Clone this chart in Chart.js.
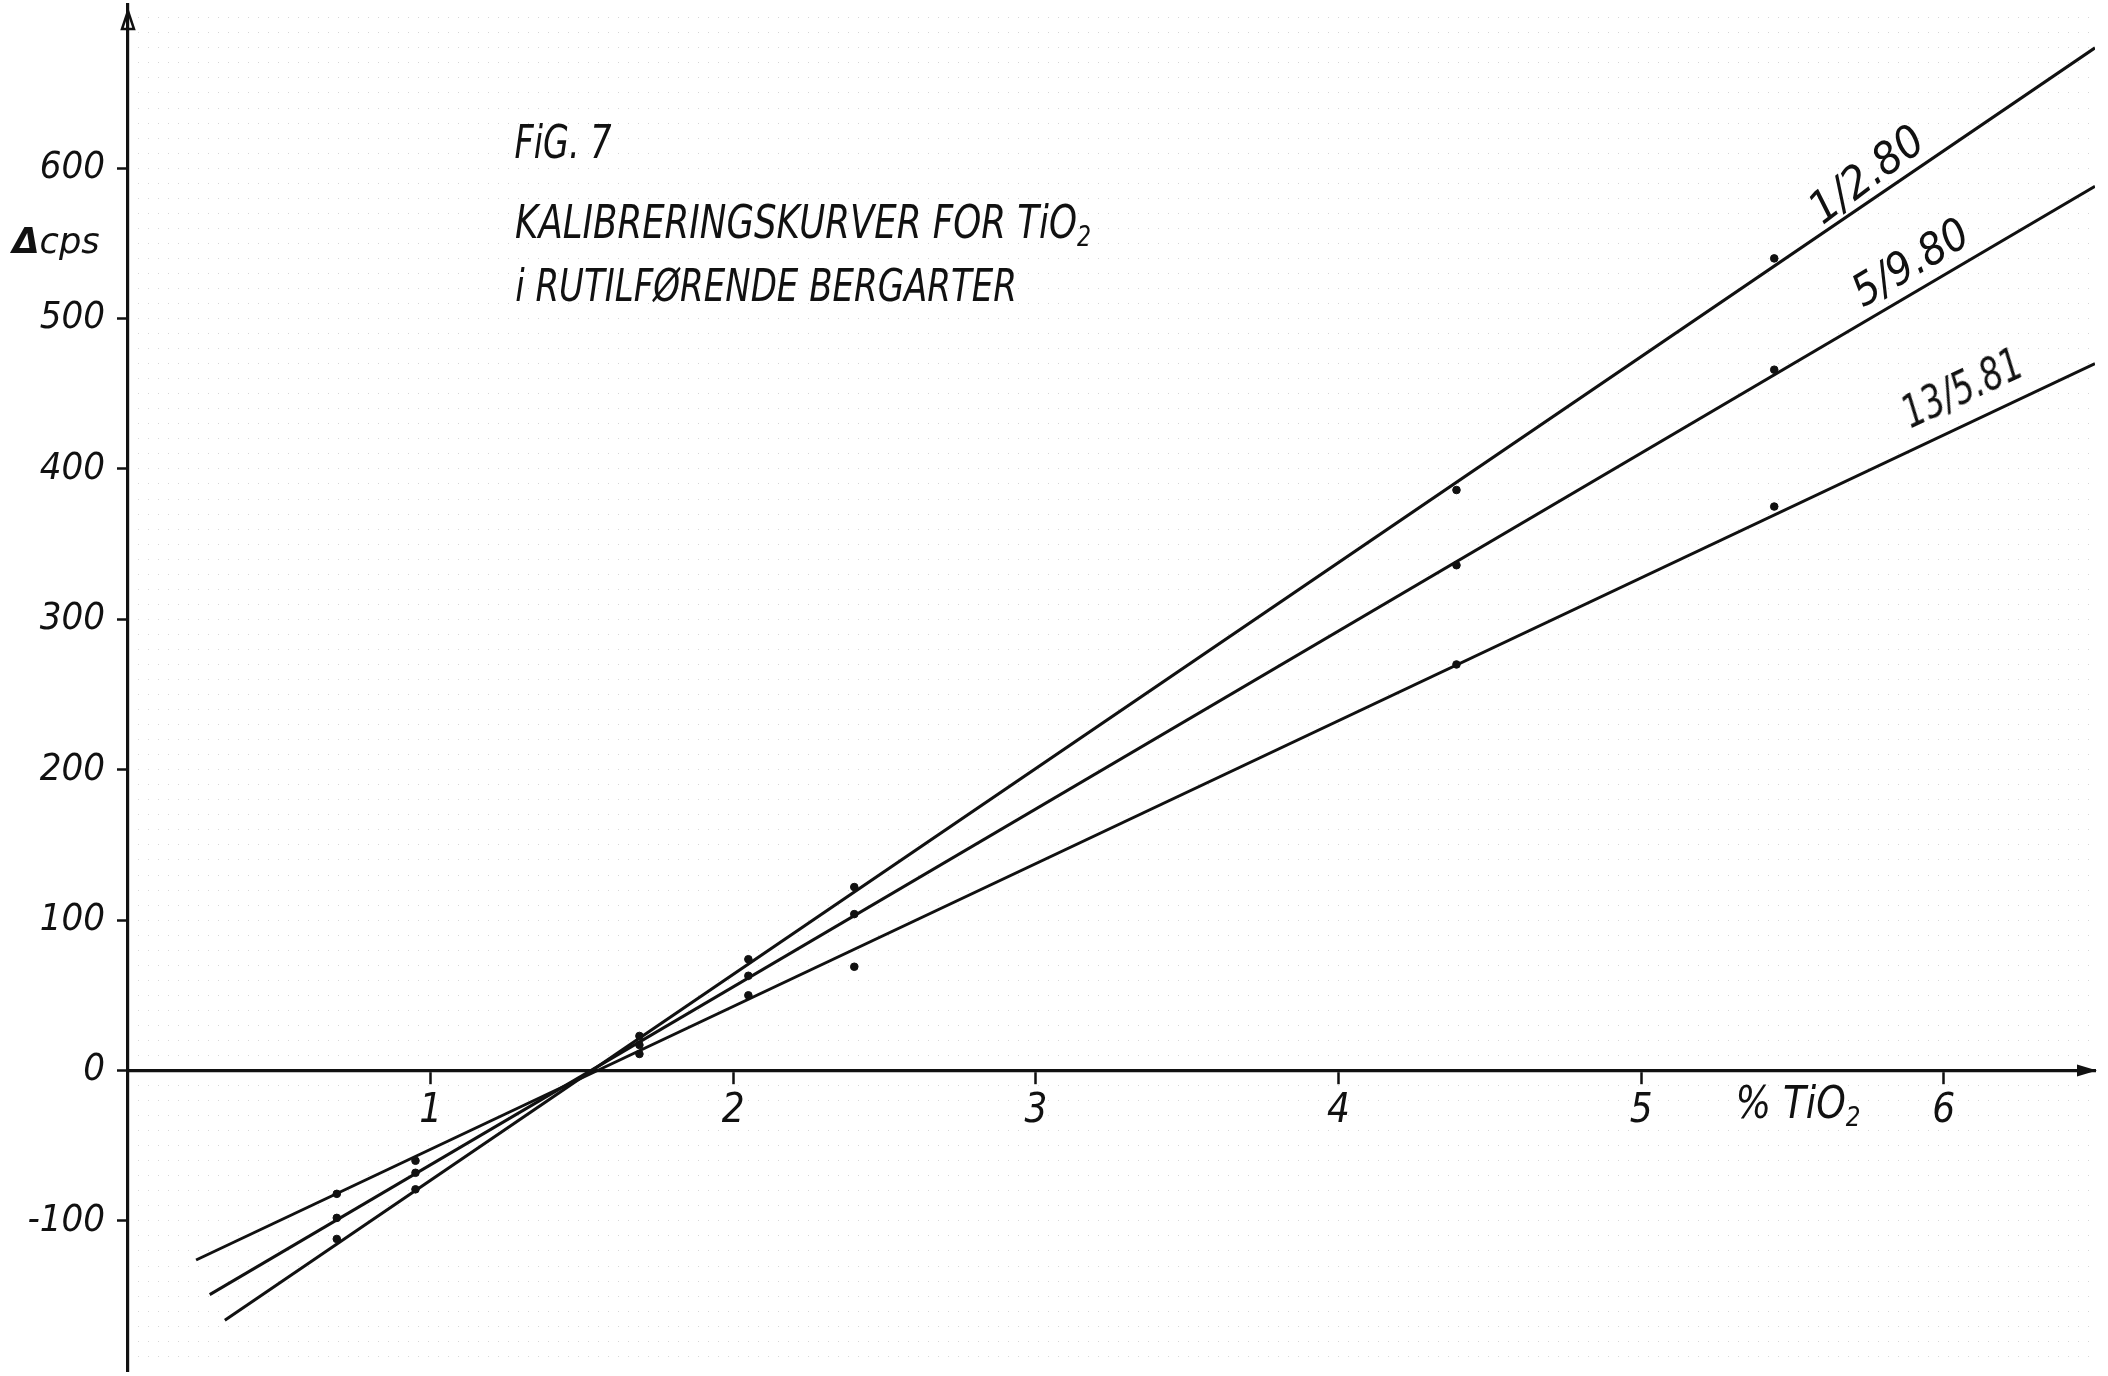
<!DOCTYPE html>
<html>
<head>
<meta charset="utf-8">
<script src="https://cdn.jsdelivr.net/npm/chart.js@4.4.1/dist/chart.umd.min.js"></script>
<style>
  html, body { margin: 0; padding: 0; background: #fff; }
  #wrap { position: relative; width: 2108px; height: 1376px; overflow: hidden; background: #fff; }
  #c { position: absolute; left: 0; top: 0; }
  .hand {
    position: absolute; left: 0; top: 0;
    font-family: 'Liberation Sans Narrow', 'DejaVu Sans Condensed', 'Liberation Sans', sans-serif;
    font-style: italic; color: #111; white-space: nowrap; line-height: 1;
    transform-origin: 50% 50%;
  }
  .hand sub { font-size: 0.62em; vertical-align: -0.28em; line-height: 0; }
</style>
</head>
<body>
<div id="wrap">
  <canvas id="c" width="2108" height="1376"></canvas>
  <div class="hand" id="figNo">FiG. 7</div>
  <div class="hand" id="title1">KALIBRERINGSKURVER FOR TiO<sub>2</sub></div>
  <div class="hand" id="title2">i RUTILFØRENDE BERGARTER</div>
  <div class="hand" id="yName"><b>Δ</b>cps</div>
  <div class="hand" id="xName">% TiO<sub>2</sub></div>
  <div class="hand" id="lab1">1/2.80</div>
  <div class="hand" id="lab2">5/9.80</div>
  <div class="hand" id="lab3">13/5.81</div>
</div>
<script>
// Axis ticks
const xTicks = [1, 2, 3, 4, 5, 6];
const yTicks = [-100, 0, 100, 200, 300, 400, 500, 600];

// Standards: % TiO2
const tio2 = [0.69, 0.95, 1.69, 2.05, 2.40, 4.39, 5.44];

// Measured Δcps for each calibration run
const cps_1_2_80  = [-112, -79, 23, 74, 122, 386, 540];
const cps_5_9_80  = [-98, -68, 17, 63, 104, 336, 466];
const cps_13_5_81 = [-82, -60, 11, 50, 69, 270, 375];

// Fitted calibration lines (end points)
const fitX_1_2_80  = [0.32, 6.50];
const fitY_1_2_80  = [-166, 680];
const fitX_5_9_80  = [0.27, 6.50];
const fitY_5_9_80  = [-149, 588];
const fitX_13_5_81 = [0.225, 6.50];
const fitY_13_5_81 = [-126, 470];

const INK = '#111';
const HAND = "'Liberation Sans Narrow', 'DejaVu Sans Condensed', 'Liberation Sans', sans-serif";

const pts = (xs, ys) => xs.map((x, i) => ({ x, y: ys[i] }));

function fitLine(xs, ys) {
  return {
    type: 'line', data: pts(xs, ys), borderColor: INK, borderWidth: 3,
    pointRadius: 0, tension: 0, fill: false, order: 2
  };
}
function dots(ys) {
  return {
    type: 'scatter', data: pts(tio2, ys), backgroundColor: INK, borderColor: INK,
    borderWidth: 1, pointRadius: 3.8, order: 1
  };
}

// Keep the plot area edge to edge: no extra room for overhanging tick labels
function noOverhang(s) {
  s.paddingTop = 0; s.paddingBottom = 0; s.paddingLeft = 0; s.paddingRight = 0;
}

// Arrow heads at the ends of both axes
const axisArrows = {
  id: 'axisArrows',
  afterDraw(chart) {
    const { ctx, scales: { x, y } } = chart;
    const x0 = x.getPixelForValue(0), y0 = y.getPixelForValue(0);
    const xEnd = x.getPixelForValue(x.max) + 2;
    const yTop = chart.chartArea.top + 6;
    ctx.save();
    ctx.strokeStyle = INK; ctx.fillStyle = INK; ctx.lineWidth = 2.5;
    ctx.beginPath();
    ctx.moveTo(x0 - 6, yTop + 18); ctx.lineTo(x0, yTop); ctx.lineTo(x0 + 6, yTop + 18);
    ctx.closePath(); ctx.stroke();
    ctx.beginPath();
    ctx.moveTo(xEnd - 20, y0 - 6); ctx.lineTo(xEnd, y0); ctx.lineTo(xEnd - 20, y0 + 6);
    ctx.closePath(); ctx.fill();
    ctx.restore();
  }
};

new Chart(document.getElementById('c'), {
  data: {
    datasets: [
      fitLine(fitX_1_2_80, fitY_1_2_80),
      fitLine(fitX_5_9_80, fitY_5_9_80),
      fitLine(fitX_13_5_81, fitY_13_5_81),
      dots(cps_1_2_80),
      dots(cps_5_9_80),
      dots(cps_13_5_81)
    ]
  },
  options: {
    responsive: false,
    animation: false,
    devicePixelRatio: 1,
    layout: { padding: { left: 0, top: 0, bottom: 0, right: 13 } },
    plugins: { legend: { display: false }, tooltip: { enabled: false } },
    scales: {
      paper: {
        type: 'linear', axis: 'y', position: 'right', min: -199.8, max: 708.5,
        afterFit: noOverhang,
        ticks: { display: false, stepSize: 10, includeBounds: false },
        grid: { drawTicks: false, color: 'rgba(0,0,0,0.16)', lineWidth: 1 },
        border: { display: false, dash: [1, 9] }
      },
      x: {
        type: 'linear', axis: 'x', position: { y: 0 }, min: 0, max: 6.5,
        afterFit: noOverhang,
        afterBuildTicks: s => { s.ticks = xTicks.map(v => ({ value: v })); },
        ticks: {
          autoSkip: false, maxRotation: 0, padding: 5,
          color: INK, font: { family: HAND, style: 'italic', size: 40 },
          callback: v => String(v)
        },
        grid: { drawOnChartArea: false, drawTicks: true, tickLength: 12, tickWidth: 2.5, color: INK },
        border: { display: true, color: INK, width: 3.2 }
      },
      y: {
        type: 'linear', position: 'left', min: -199.8, max: 708.5,
        afterFit: s => { noOverhang(s); s.width = 128; },
        afterBuildTicks: s => { s.ticks = yTicks.map(v => ({ value: v })); },
        ticks: {
          autoSkip: false, padding: 12,
          color: INK, font: { family: HAND, style: 'italic', size: 38 },
          callback: v => String(v)
        },
        grid: { drawOnChartArea: false, drawTicks: true, tickLength: 11, tickWidth: 2.5, color: INK },
        border: { display: true, color: INK, width: 3.2 }
      }
    }
  },
  plugins: [axisArrows]
});

// Hand-lettered annotations: centre x, centre y, width, font size, rotation
function place(id, cx, cy, w, size, rot) {
  const el = document.getElementById(id);
  el.style.fontSize = size + 'px';
  const s = w / el.offsetWidth;
  el.style.left = cx + 'px';
  el.style.top = cy + 'px';
  el.style.transform = `translate(-50%, -50%) rotate(${rot}deg) scaleX(${s})`;
}
function layoutText() {
  place('figNo', 563, 142, 97, 46, 0);
  place('title1', 803, 222, 576, 46, 0);
  place('title2', 766, 286, 502, 44, 0);
  place('yName', 56, 241, 87, 36, 0);
  place('xName', 1798, 1103, 125, 44, 0);
  place('lab1', 1866, 174, 132, 44, -37);
  place('lab2', 1910, 262, 128, 44, -31);
  place('lab3', 1962, 388, 128, 44, -25);
}
layoutText();
if (document.fonts && document.fonts.ready) document.fonts.ready.then(layoutText);
</script>
</body>
</html>
